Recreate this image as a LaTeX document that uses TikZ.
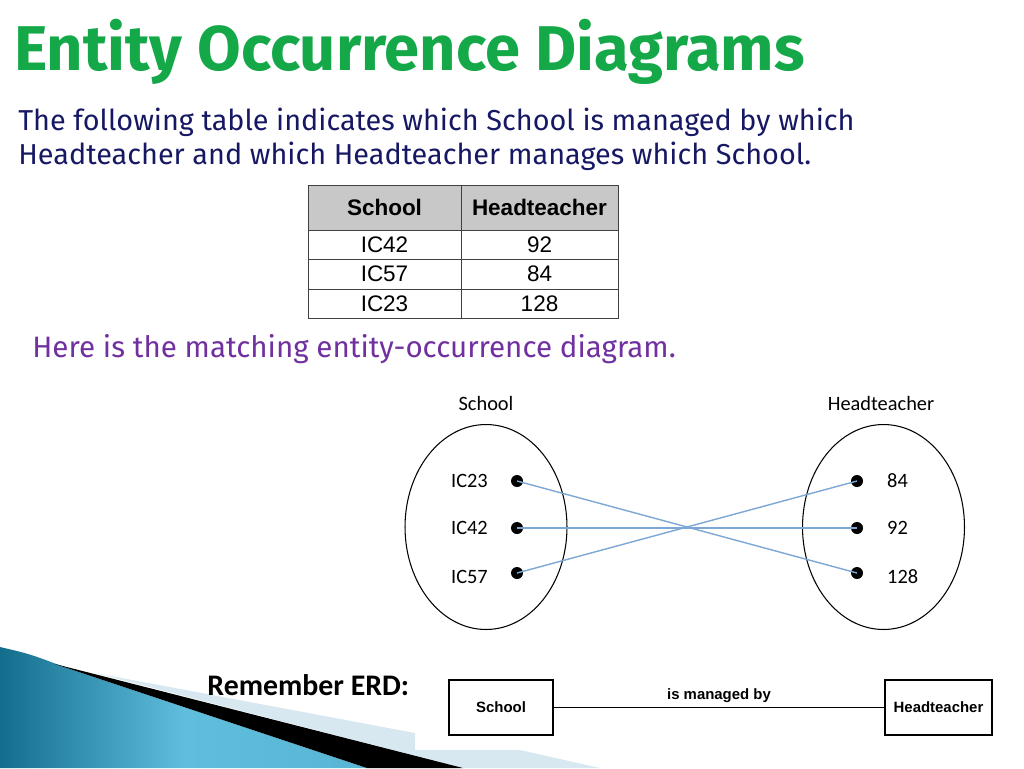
\documentclass[tikz,border=0pt]{standalone}
\usepackage{fontspec}
\usepackage{xcolor}
\setmainfont{Carlito}
\newfontfamily\comicfont{Fira Sans}
\newfontfamily\arialfont{Liberation Sans}
\usetikzlibrary{shapes.geometric}

\definecolor{titlegreen}{RGB}{20,168,72}
\definecolor{introblue}{RGB}{22,24,100}
\definecolor{herepurple}{RGB}{112,48,160}
\definecolor{headgray}{RGB}{200,200,200}
\definecolor{linkblue}{RGB}{125,168,214}
\definecolor{tealdark}{RGB}{18,110,140}
\definecolor{teallight}{RGB}{95,190,220}
\definecolor{palecyan}{RGB}{215,232,240}

\begin{document}
\begin{tikzpicture}[
    x=0.02cm, y=-0.02cm,
    cell/.style={rectangle, draw=black!75, minimum height=0.59cm, inner sep=0pt, font=\arialfont\fontsize{12.8}{14}\selectfont},
    set/.style={ellipse, draw, line width=0.6pt, minimum width=3.24cm, minimum height=4.1cm, inner sep=0pt},
    dot/.style={circle, fill=black, minimum size=0.24cm, inner sep=0pt},
    occ/.style={font=\fontsize{11.6}{14}\selectfont},
    link/.style={draw=linkblue, line width=0.8pt},
    erbox/.style={rectangle, draw, line width=0.7pt, minimum height=1.1cm, inner sep=0pt, font=\arialfont\bfseries\fontsize{8.5}{10}\selectfont}
]
    \useasboundingbox (0,0) rectangle (1024,768);

    % Corner decoration
    \fill[palecyan] (95,673) -- (415,733) -- (415,750) -- (520,750) -- (600,768) -- (463,768) -- cycle;
    \shade[left color=tealdark, right color=teallight!90!tealdark, middle color=teallight]
        (0,647) .. controls (30,654) .. (67,668) -- (367,768) -- (0,768) -- cycle;
    \fill[black] (55,664) -- (463,768) -- (367,768) -- (67,668) -- cycle;

    % Heading and text
    \node[anchor=base west, text=titlegreen, font=\comicfont\bfseries\fontsize{36}{40}\selectfont] (title) at (8,70) {Entity Occurrence Diagrams};
    \node[anchor=base west, text=introblue, font=\comicfont\fontsize{16.4}{20}\selectfont, inner sep=0pt] (intro1) at (18,130) {The following table indicates which School is managed by which};
    \node[anchor=base west, text=introblue, font=\comicfont\fontsize{16.4}{20}\selectfont, inner sep=0pt] (intro2) at (18,164) {Headteacher and which Headteacher manages which School.};

    % Table
    \node[cell, fill=headgray, minimum width=3.06cm, minimum height=0.9cm] (hschool) at (384.5,207.5) {\bfseries School};
    \node[cell, fill=headgray, minimum width=3.14cm, minimum height=0.9cm] (hhead) at (539.5,207.5) {\bfseries Headteacher};
    \node[cell, minimum width=3.06cm] (s1) at (384.5,244.75) {IC42};
    \node[cell, minimum width=3.14cm] (h1) at (539.5,244.75) {92};
    \node[cell, minimum width=3.06cm] (s2) at (384.5,274.25) {IC57};
    \node[cell, minimum width=3.14cm] (h2) at (539.5,274.25) {84};
    \node[cell, minimum width=3.06cm] (s3) at (384.5,303.75) {IC23};
    \node[cell, minimum width=3.14cm] (h3) at (539.5,303.75) {128};

    \node[anchor=base west, text=herepurple, font=\comicfont\fontsize{16.8}{20}\selectfont, inner sep=0pt] (here) at (32,357) {Here is the matching entity-occurrence diagram.};

    % Occurrence diagram
    \node[set] (schoolset) at (486,527) {};
    \node[set] (headset) at (883.5,527) {};
    \node[occ] (schooltitle) at (486,403) {School};
    \node[occ] (headtitle) at (881,403) {Headteacher};

    \node[dot] (ic23) at (517,481) {};
    \node[dot] (ic42) at (517,528) {};
    \node[dot] (ic57) at (517,573) {};
    \node[dot] (t84) at (857,481) {};
    \node[dot] (t92) at (857,528) {};
    \node[dot] (t128) at (857,573) {};

    \node[occ, anchor=east] (lic23) at (494,481) {IC23};
    \node[occ, anchor=east] (lic42) at (494,528) {IC42};
    \node[occ, anchor=east] (lic57) at (494,577) {IC57};
    \node[occ, anchor=west] (l84) at (881,481) {84};
    \node[occ, anchor=west] (l92) at (881,528) {92};
    \node[occ, anchor=west] (l128) at (881,577) {128};

    \draw[link] (ic23.center) -- (t128.center);
    \draw[link] (ic42.center) -- (t92.center);
    \draw[link] (ic57.center) -- (t84.center);

    % ERD
    \node[anchor=base west, font=\bfseries\fontsize{17}{20}\selectfont, inner sep=0pt] (remember) at (207,695) {Remember ERD:};
    \node[erbox, minimum width=2.08cm] (erschool) at (501,707.5) {School};
    \node[erbox, minimum width=2.14cm] (erhead) at (938.5,707.5) {Headteacher};
    \draw[line width=1.1pt] (erschool) -- node[above=-1pt, font=\arialfont\bfseries\fontsize{8.5}{10}\selectfont] (rel) {is managed by} (erhead);
\end{tikzpicture}
\end{document}
